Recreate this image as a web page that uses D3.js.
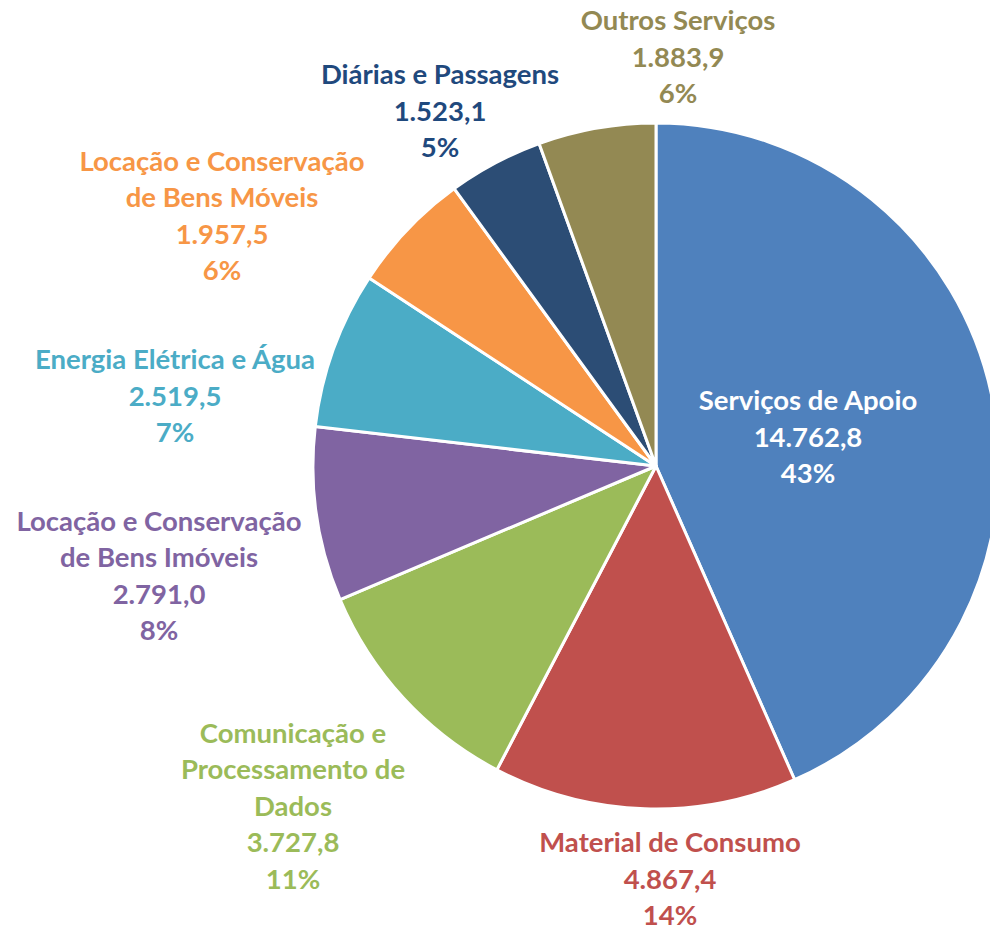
<!DOCTYPE html>
<html>
<head>
<meta charset="utf-8">
<script src="https://cdn.jsdelivr.net/npm/d3@7"></script>
<style>
  body { margin: 0; background: #fff; }
  svg text { font-family: Lato, "Open Sans", sans-serif; font-weight: bold; }
</style>
</head>
<body>
<div id="chart"></div>
<script>
// Categories (label lines), values and percent labels
var categories = [
  ["Serviços de Apoio"],
  ["Material de Consumo"],
  ["Comunicação e", "Processamento de", "Dados"],
  ["Locação e Conservação", "de Bens Imóveis"],
  ["Energia Elétrica e Água"],
  ["Locação e Conservação", "de Bens Móveis"],
  ["Diárias e Passagens"],
  ["Outros Serviços"]
]
var values = [14762.8, 4867.4, 3727.8, 2791.0, 2519.5, 1957.5, 1523.1, 1883.9]
var pctLabels = ["43%", "14%", "11%", "8%", "7%", "6%", "5%", "6%"]

var sliceColors = ['#4F81BD', '#C0504D', '#9BBB59', '#8064A2', '#4BACC6', '#F79646', '#2C4D75', '#938953']
var textColors  = ['#ffffff', '#C0504D', '#9BBB59', '#8064A2', '#4BACC6', '#F79646', '#1F497D', '#938953']

// label block centres, offsets from pie centre (placed by hand in the original)
var labelOffsets = [[152, -29], [14, 413], [-363, 340], [-497, 110], [-481, -70], [-434, -250], [-216, -355], [22, -409]]

var width = 990, height = 930
var cx = 656, cy = 466, radius = 343
var lineH = 36.5

var ptBR = d3.formatLocale({decimal: ",", thousands: ".", grouping: [3], currency: ["R$", ""]})
var fmt = ptBR.format(",.1f")

var svg = d3.select("#chart")
    .append("svg")
    .attr("width", width)
    .attr("height", height)

var g = svg.append('g')
    .attr('transform', 'translate(' + cx + ',' + cy + ')')

var pie = d3.pie().sort(null).value(d => d)
var arc = d3.arc().innerRadius(0).outerRadius(radius)
var arcs = pie(values)

g.selectAll('path')
    .data(arcs)
    .enter()
    .append('path')
    .attr('d', arc)
    .style('fill', (d, i) => sliceColors[i])
    .style('stroke', '#fff')
    .style('stroke-width', 3)
    .style('stroke-linejoin', 'round')

// Labels
var labels = g.selectAll('.label')
    .data(arcs)
    .enter()
    .append('text')
    .attr('class', 'label')
    .attr('text-anchor', 'middle')
    .style('font-size', '27.5px')
    .style('fill', (d, i) => textColors[i])

labels.each(function(d, i) {
    var lines = categories[i].concat([fmt(values[i]), pctLabels[i]])
    var off = labelOffsets[i]
    var y0 = off[1] - (lines.length - 1) / 2 * lineH
    var t = d3.select(this)
    lines.forEach((ln, j) => {
        t.append('tspan')
            .attr('x', off[0])
            .attr('y', y0 + j * lineH)
            .attr('dy', '0.35em')
            .text(ln)
    })
})
</script>
</body>
</html>
